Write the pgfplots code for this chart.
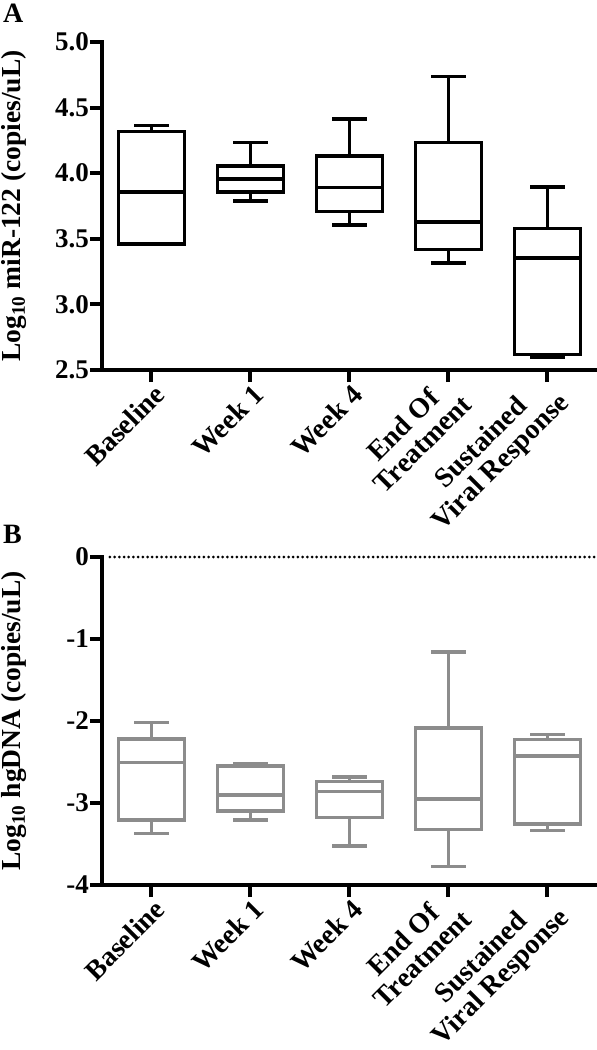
\documentclass[border=0pt]{standalone}
\usepackage{fontspec}
\setmainfont{Liberation Serif}
\usepackage{pgfplots}
\pgfplotsset{compat=1.18}
\usepgfplotslibrary{statistics}
\definecolor{boxgray}{RGB}{140,140,140}
\pgfplotsset{
  panel/.style={
    scale only axis, width=495pt, height=328pt,
    xmin=-0.5, xmax=4.5,
    axis lines=left,
    axis line style={-, line width=4pt, line cap=rect},
    tick style={line width=4pt, black},
    major tick length=12pt,
    tick align=outside,
    xtick={0,1,2,3,4},
    xticklabels={Baseline, Week 1, Week 4, {End Of\\Treatment}, {Sustained\\Viral Response}},
    xticklabel style={xshift=9pt, yshift=-7pt, rotate=45, anchor=east, align=center,
      font=\fontsize{28}{27.5}\selectfont\bfseries, inner sep=1pt},
    yticklabel style={font=\fontsize{27}{27}\selectfont\bfseries, inner sep=1pt},
    ylabel style={font=\fontsize{27.5}{27.5}\selectfont\bfseries,
      at={(axis description cs:-0.145,0.5)}, anchor=south},
    clip=false,
    boxplot/draw direction=y,
  },
  bx/.style={draw=#1, line width=3.5pt, solid, mark=none, line join=miter},
}
\begin{document}
\begin{tikzpicture}
\useasboundingbox (0,0) rectangle (597pt,-1050pt);
\node[anchor=north west, inner sep=0pt, font=\fontsize{28}{28}\selectfont\bfseries] at (3pt,-4pt) {A};
\node[anchor=north west, inner sep=0pt, font=\fontsize{28}{28}\selectfont\bfseries] at (3pt,-525pt) {B};

\begin{axis}[panel, at={(102pt,-42pt)}, anchor=north west,
  ymin=2.5, ymax=5.0,
  ytick={2.5,3.0,3.5,4.0,4.5,5.0},
  yticklabels={2.5,3.0,3.5,4.0,4.5,5.0},
  ylabel={Log\textsubscript{10} miR-122 (copies/uL)}]
\addplot[bx=black, boxplot prepared={draw position=0, lower whisker=3.462, lower quartile=3.462, median=3.857, upper quartile=4.319, upper whisker=4.362, box extend=0.67, whisker extend=0.35}] coordinates {};
\addplot[bx=black, boxplot prepared={draw position=1, lower whisker=3.788, lower quartile=3.857, median=3.954, upper quartile=4.056, upper whisker=4.235, box extend=0.67, whisker extend=0.35}] coordinates {};
\addplot[bx=black, boxplot prepared={draw position=2, lower whisker=3.605, lower quartile=3.707, median=3.890, upper quartile=4.133, upper whisker=4.413, box extend=0.67, whisker extend=0.35}] coordinates {};
\addplot[bx=black, boxplot prepared={draw position=3, lower whisker=3.316, lower quartile=3.418, median=3.630, upper quartile=4.235, upper whisker=4.737, box extend=0.67, whisker extend=0.35}] coordinates {};
\addplot[bx=black, boxplot prepared={draw position=4, lower whisker=2.600, lower quartile=2.620, median=3.355, upper quartile=3.577, upper whisker=3.895, box extend=0.67, whisker extend=0.35}] coordinates {};
\end{axis}

\begin{axis}[panel, at={(102pt,-557pt)}, anchor=north west,
  ymin=-4, ymax=0,
  ytick={-4,-3,-2,-1,0},
  yticklabels={-4,-3,-2,-1,0},
  ylabel={Log\textsubscript{10} hgDNA (copies/uL)}]
\addplot[black, line width=3pt, line cap=round, dash pattern=on 0pt off 4.7pt] coordinates {(-0.42,0) (4.5,0)};
\addplot[bx=boxgray, boxplot prepared={draw position=0, lower whisker=-3.369, lower quartile=-3.206, median=-2.505, upper quartile=-2.220, upper whisker=-2.016, box extend=0.67, whisker extend=0.35}] coordinates {};
\addplot[bx=boxgray, boxplot prepared={draw position=1, lower whisker=-3.206, lower quartile=-3.096, median=-2.900, upper quartile=-2.546, upper whisker=-2.525, box extend=0.67, whisker extend=0.35}] coordinates {};
\addplot[bx=boxgray, boxplot prepared={draw position=2, lower whisker=-3.523, lower quartile=-3.177, median=-2.860, upper quartile=-2.737, upper whisker=-2.684, box extend=0.67, whisker extend=0.35}] coordinates {};
\addplot[bx=boxgray, boxplot prepared={draw position=3, lower whisker=-3.776, lower quartile=-3.320, median=-2.953, upper quartile=-2.086, upper whisker=-1.157, box extend=0.67, whisker extend=0.35}] coordinates {};
\addplot[bx=boxgray, boxplot prepared={draw position=4, lower whisker=-3.336, lower quartile=-3.259, median=-2.424, upper quartile=-2.228, upper whisker=-2.167, box extend=0.67, whisker extend=0.35}] coordinates {};
\end{axis}
\end{tikzpicture}
\end{document}
